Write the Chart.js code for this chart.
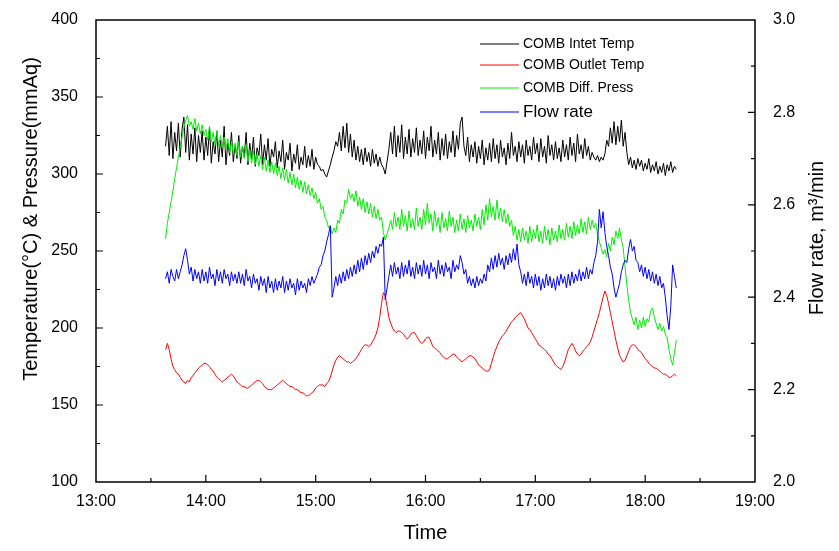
<!DOCTYPE html>
<html>
<head>
<meta charset="utf-8">
<script src="https://cdn.jsdelivr.net/npm/chart.js@4.4.0/dist/chart.umd.min.js"></script>
<style>
  html, body { margin: 0; padding: 0; background: #fff; }
</style>
</head>
<body>
<canvas id="chart" width="839" height="551"></canvas>
<script>
// Time of each reading, minutes after 13:00 (one row = 20 min)
const minutes = [
   38,  39,  40,  41,  42,  43,  44,  45,  46,  47,  48,  49,  50,  51,  52,  53,  54,  55,  56,  57,
   58,  59,  60,  61,  62,  63,  64,  65,  66,  67,  68,  69,  70,  71,  72,  73,  74,  75,  76,  77,
   78,  79,  80,  81,  82,  83,  84,  85,  86,  87,  88,  89,  90,  91,  92,  93,  94,  95,  96,  97,
   98,  99, 100, 101, 102, 103, 104, 105, 106, 107, 108, 109, 110, 111, 112, 113, 114, 115, 116, 117,
  118, 119, 120, 121, 122, 123, 124, 125, 126, 127, 128, 129, 130, 131, 132, 133, 134, 135, 136, 137,
  138, 139, 140, 141, 142, 143, 144, 145, 146, 147, 148, 149, 150, 151, 152, 153, 154, 155, 156, 157,
  158, 159, 160, 161, 162, 163, 164, 165, 166, 167, 168, 169, 170, 171, 172, 173, 174, 175, 176, 177,
  178, 179, 180, 181, 182, 183, 184, 185, 186, 187, 188, 189, 190, 191, 192, 193, 194, 195, 196, 197,
  198, 199, 200, 201, 202, 203, 204, 205, 206, 207, 208, 209, 210, 211, 212, 213, 214, 215, 216, 217,
  218, 219, 220, 221, 222, 223, 224, 225, 226, 227, 228, 229, 230, 231, 232, 233, 234, 235, 236, 237,
  238, 239, 240, 241, 242, 243, 244, 245, 246, 247, 248, 249, 250, 251, 252, 253, 254, 255, 256, 257,
  258, 259, 260, 261, 262, 263, 264, 265, 266, 267, 268, 269, 270, 271, 272, 273, 274, 275, 276, 277,
  278, 279, 280, 281, 282, 283, 284, 285, 286, 287, 288, 289, 290, 291, 292, 293, 294, 295, 296, 297,
  298, 299, 300, 301, 302, 303, 304, 305, 306, 307, 308, 309, 310, 311, 312, 313, 314, 315, 316, 317
];

// COMB Intet Temp (left axis)
const inletTemp = [
  318, 331, 312, 334, 310, 327, 315, 333, 311, 329, 337, 314, 332, 309, 326, 313, 330, 308, 325, 314,
  328, 309, 324, 312, 330, 307, 321, 313, 328, 308, 322, 311, 331, 306, 320, 312, 327, 308, 319, 310,
  325, 307, 318, 311, 327, 306, 320, 310, 324, 305, 317, 312, 326, 306, 319, 309, 323, 305, 316, 311,
  321, 304, 315, 308, 322, 303, 314, 309, 320, 302, 313, 307, 319, 303, 311, 306, 318, 304, 312, 305,
  316, 303, 311, 306, 305, 302, 303, 300, 298, 302, 306, 311, 315, 321, 318, 327, 315, 331, 317, 333,
  314, 326, 311, 322, 309, 318, 308, 316, 306, 317, 308, 314, 305, 316, 307, 313, 305, 311, 306, 304,
  300, 308, 316, 327, 313, 331, 311, 325, 314, 332, 310, 324, 313, 329, 311, 323, 314, 330, 312, 322,
  313, 328, 310, 324, 315, 331, 311, 322, 313, 327, 309, 323, 312, 326, 310, 321, 314, 328, 311, 325,
  316, 333, 337, 318, 312, 324, 308, 319, 311, 321, 307, 318, 310, 322, 306, 317, 309, 320, 308, 323,
  310, 319, 307, 322, 311, 317, 306, 320, 310, 327, 312, 318, 308, 321, 311, 319, 307, 322, 312, 318,
  309, 324, 313, 320, 308, 323, 311, 318, 307, 325, 312, 319, 309, 321, 310, 317, 308, 322, 311, 319,
  309, 324, 312, 320, 308, 326, 313, 319, 310, 323, 312, 318, 309, 314, 311, 309, 312, 308, 311, 309,
  313, 322, 318, 330, 320, 334, 319, 331, 321, 335, 318, 327, 314, 306, 311, 304, 309, 303, 310, 305,
  309, 302, 307, 303, 310, 301, 306, 302, 308, 300, 305, 301, 307, 299, 306, 302, 308, 301, 305, 303
];

// COMB Outlet Temp (left axis)
const outletTemp = [
  186, 190, 186, 180, 175, 173, 171, 170, 168, 166, 165, 164, 166, 165, 168, 169, 171, 172, 174, 175,
  176, 177, 177, 176, 175, 173, 172, 170, 168, 167, 166, 165, 166, 167, 168, 169, 170, 169, 167, 165,
  164, 163, 162, 162, 161, 161, 162, 163, 164, 165, 166, 166, 165, 164, 162, 161, 160, 160, 160, 161,
  162, 163, 164, 165, 166, 165, 164, 163, 162, 162, 161, 160, 160, 159, 158, 158, 157, 156, 156, 157,
  158, 159, 161, 162, 163, 163, 163, 162, 164, 165, 168, 172, 176, 179, 181, 182, 181, 180, 179, 178,
  178, 177, 178, 179, 180, 182, 184, 186, 188, 189, 189, 188, 189, 191, 193, 196, 200, 207, 216, 223,
  221, 214, 207, 203, 200, 198, 197, 198, 198, 197, 196, 194, 193, 194, 196, 197, 197, 195, 193, 191,
  190, 191, 193, 194, 194, 191, 188, 187, 186, 185, 184, 182, 181, 180, 180, 181, 182, 183, 183, 181,
  180, 179, 178, 179, 180, 181, 182, 182, 181, 180, 178, 176, 175, 174, 173, 172, 172, 173, 177, 181,
  185, 188, 191, 193, 195, 196, 198, 200, 202, 204, 205, 207, 208, 209, 210, 208, 206, 203, 200, 199,
  197, 195, 193, 191, 189, 188, 187, 186, 185, 183, 182, 180, 178, 176, 175, 174, 173, 175, 178, 182,
  186, 188, 190, 188, 185, 183, 182, 183, 185, 186, 188, 189, 191, 194, 198, 202, 206, 210, 215, 220,
  224, 221, 216, 210, 204, 198, 192, 187, 182, 180, 178, 179, 182, 185, 188, 189, 189, 188, 186, 185,
  184, 182, 180, 179, 177, 176, 175, 174, 174, 173, 172, 171, 170, 170, 169, 168, 168, 169, 170, 169
];

// COMB Diff. Press (left axis)
const diffPress = [
  258, 268, 275, 282, 289, 297, 304, 311, 317, 324, 330, 335, 338, 331, 334, 329, 336, 328, 333, 326,
  332, 325, 329, 322, 331, 321, 327, 319, 328, 318, 325, 317, 324, 316, 323, 314, 321, 313, 320, 312,
  321, 311, 318, 310, 319, 308, 316, 307, 315, 306, 313, 305, 312, 303, 311, 302, 309, 301, 308, 300,
  307, 299, 305, 297, 304, 296, 303, 294, 301, 293, 300, 291, 298, 290, 296, 288, 295, 287, 293, 286,
  291, 284, 288, 281, 284, 277, 279, 272, 270, 265, 266, 261, 265, 262, 270, 268, 277, 274, 283, 281,
  290, 284, 287, 282, 289, 279, 285, 277, 284, 275, 282, 274, 281, 272, 279, 271, 277, 270, 272, 262,
  257, 261, 265, 270, 264, 275, 266, 272, 264, 277, 266, 273, 263, 276, 265, 271, 264, 278, 266, 272,
  264, 277, 267, 281, 268, 274, 263, 276, 266, 272, 262, 275, 265, 271, 263, 276, 266, 272, 262, 270,
  263, 274, 264, 271, 262, 273, 265, 270, 263, 274, 266, 272, 264, 277, 267, 280, 270, 284, 272, 279,
  270, 283, 271, 278, 269, 277, 268, 274, 266, 270, 260, 266, 257, 264, 256, 265, 257, 263, 255, 266,
  256, 264, 258, 267, 256, 263, 255, 266, 257, 264, 254, 265, 257, 263, 256, 267, 258, 264, 257, 268,
  259, 266, 258, 269, 260, 267, 261, 271, 262, 269, 261, 272, 264, 270, 265, 268, 261, 256, 252, 248,
  251, 246, 255, 250, 259, 254, 263, 258, 265, 257, 252, 240, 228, 218, 210, 206, 202, 207, 199, 205,
  200, 207, 201, 206, 204, 211, 213, 207, 203, 199, 203, 198, 201, 196, 194, 186, 180, 176, 184, 192
];

// Flow rate (right axis, m3/min)
const flowRate = [
  2.440, 2.455, 2.430, 2.460, 2.445, 2.435, 2.460, 2.440, 2.455, 2.470, 2.490, 2.505, 2.480, 2.450, 2.465, 2.435, 2.460, 2.440, 2.455, 2.430,
  2.460, 2.435, 2.455, 2.430, 2.465, 2.440, 2.450, 2.425, 2.460, 2.435, 2.455, 2.430, 2.460, 2.440, 2.450, 2.425, 2.455, 2.435, 2.450, 2.430,
  2.455, 2.430, 2.450, 2.425, 2.460, 2.435, 2.445, 2.420, 2.450, 2.430, 2.440, 2.415, 2.445, 2.425, 2.440, 2.410, 2.445, 2.420, 2.435, 2.410,
  2.440, 2.415, 2.435, 2.420, 2.445, 2.410, 2.435, 2.415, 2.440, 2.420, 2.430, 2.405, 2.440, 2.415, 2.435, 2.420, 2.430, 2.410, 2.440, 2.425,
  2.445, 2.430, 2.440, 2.450, 2.465, 2.470, 2.490, 2.500, 2.520, 2.535, 2.555, 2.400, 2.420, 2.445, 2.425, 2.450, 2.430, 2.455, 2.435, 2.460,
  2.440, 2.465, 2.445, 2.470, 2.450, 2.480, 2.455, 2.485, 2.460, 2.490, 2.470, 2.495, 2.475, 2.500, 2.485, 2.510, 2.495, 2.515, 2.510, 2.530,
  2.395, 2.420, 2.445, 2.470, 2.445, 2.475, 2.450, 2.465, 2.440, 2.475, 2.445, 2.470, 2.450, 2.480, 2.445, 2.465, 2.440, 2.475, 2.450, 2.470,
  2.445, 2.480, 2.450, 2.470, 2.440, 2.475, 2.455, 2.465, 2.440, 2.480, 2.450, 2.470, 2.445, 2.475, 2.455, 2.465, 2.440, 2.480, 2.455, 2.470,
  2.460, 2.490, 2.475, 2.450, 2.460, 2.430, 2.445, 2.425, 2.440, 2.420, 2.445, 2.425, 2.440, 2.430, 2.450, 2.435, 2.470, 2.455, 2.485, 2.460,
  2.490, 2.465, 2.495, 2.470, 2.485, 2.460, 2.490, 2.470, 2.495, 2.475, 2.505, 2.480, 2.515, 2.470, 2.455, 2.430, 2.450, 2.425, 2.455, 2.430,
  2.445, 2.420, 2.450, 2.425, 2.445, 2.415, 2.440, 2.420, 2.450, 2.425, 2.445, 2.420, 2.440, 2.415, 2.445, 2.425, 2.450, 2.430, 2.445, 2.420,
  2.450, 2.425, 2.455, 2.430, 2.450, 2.435, 2.460, 2.435, 2.455, 2.440, 2.465, 2.440, 2.460, 2.450, 2.475, 2.490, 2.520, 2.590, 2.550, 2.585,
  2.540, 2.510, 2.490, 2.465, 2.450, 2.420, 2.400, 2.415, 2.430, 2.455, 2.470, 2.480, 2.475, 2.505, 2.525, 2.500, 2.510, 2.480, 2.475, 2.455,
  2.470, 2.445, 2.465, 2.440, 2.460, 2.435, 2.455, 2.430, 2.450, 2.425, 2.445, 2.420, 2.430, 2.400, 2.360, 2.330, 2.380, 2.470, 2.445, 2.420
];

const seriesLabels = ['COMB Intet Temp', 'COMB Outlet Temp', 'COMB Diff. Press', 'Flow rate'];
const seriesColors = ['#000000', '#ff0000', '#00ee00', '#0000ff'];

function toPoints(values) {
  return minutes.map((m, i) => ({ x: m, y: values[i] }));
}

function hhmm(m) {
  return (13 + Math.floor(m / 60)) + ':' + String(m % 60).padStart(2, '0');
}

// Frame, inward tick marks, legend and the y titles
const framePlugin = {
  id: 'frame',
  afterDraw(chart) {
    const { ctx, chartArea: a, scales } = chart;
    ctx.save();
    ctx.strokeStyle = '#000';
    ctx.lineWidth = 1.5;
    ctx.strokeRect(a.left, a.top, a.right - a.left, a.bottom - a.top);

    ctx.lineWidth = 1.2;
    ctx.beginPath();
    for (let m = 30; m < 360; m += 30) {
      const px = scales.x.getPixelForValue(m);
      const len = m % 60 === 0 ? 7 : 4;
      ctx.moveTo(px, a.bottom);
      ctx.lineTo(px, a.bottom - len);
    }
    for (let v = 125; v < 400; v += 25) {
      const py = scales.y.getPixelForValue(v);
      const len = v % 50 === 0 ? 7 : 4;
      ctx.moveTo(a.left, py);
      ctx.lineTo(a.left + len, py);
    }
    for (let k = 1; k < 10; k++) {
      const py = scales.y1.getPixelForValue(2 + k / 10);
      const len = k % 2 === 0 ? 7 : 4;
      ctx.moveTo(a.right, py);
      ctx.lineTo(a.right - len, py);
    }
    ctx.stroke();

    // legend
    const rows = [44, 65, 88, 112];
    chart.data.datasets.forEach((ds, i) => {
      ctx.strokeStyle = ds.borderColor;
      ctx.lineWidth = 1;
      ctx.beginPath();
      ctx.moveTo(480, rows[i]);
      ctx.lineTo(519, rows[i]);
      ctx.stroke();
      ctx.fillStyle = '#000';
      ctx.textBaseline = 'middle';
      ctx.textAlign = 'left';
      ctx.font = i === 3 ? '17px "Liberation Sans", Arial' : '14px "Liberation Sans", Arial';
      ctx.fillText(ds.label, 523, rows[i]);
    });

    // y titles, both reading bottom to top
    ctx.font = '20px "Liberation Sans", Arial';
    ctx.textAlign = 'center';
    ctx.fillStyle = '#000';
    ctx.save();
    ctx.translate(31, 219);
    ctx.rotate(-Math.PI / 2);
    ctx.fillText('Temperature(\u00B0C) & Pressure(mmAq)', 0, 0);
    ctx.restore();
    ctx.save();
    ctx.translate(817, 238);
    ctx.rotate(-Math.PI / 2);
    ctx.fillText('Flow rate, m\u00B3/min', 0, 0);
    ctx.restore();
    ctx.restore();
  }
};

const tickFont = { family: '"Liberation Sans", Arial', size: 16 };

new Chart(document.getElementById('chart'), {
  type: 'line',
  data: {
    datasets: [
      { label: seriesLabels[0], data: toPoints(inletTemp), borderColor: seriesColors[0], yAxisID: 'y', order: 4 },
      { label: seriesLabels[1], data: toPoints(outletTemp), borderColor: seriesColors[1], yAxisID: 'y', order: 3 },
      { label: seriesLabels[2], data: toPoints(diffPress), borderColor: seriesColors[2], yAxisID: 'y', order: 2 },
      { label: seriesLabels[3], data: toPoints(flowRate), borderColor: seriesColors[3], yAxisID: 'y1', order: 1 }
    ]
  },
  options: {
    responsive: false,
    animation: false,
    devicePixelRatio: 1,
    layout: { padding: { top: 20, left: 0, right: 0, bottom: 0 } },
    elements: {
      line: { borderWidth: 1, tension: 0 },
      point: { radius: 0 }
    },
    plugins: {
      legend: { display: false },
      tooltip: { enabled: false }
    },
    scales: {
      x: {
        type: 'linear',
        min: 0,
        max: 360,
        grid: { display: false },
        border: { display: false },
        ticks: { stepSize: 60, color: '#000', font: tickFont, padding: 2, maxRotation: 0, callback: v => hhmm(v) },
        title: { display: true, text: 'Time', color: '#000', font: { family: '"Liberation Sans", Arial', size: 20 }, padding: { top: 0, bottom: 6 } },
        afterFit: s => { s.height = 69; }
      },
      y: {
        position: 'left',
        min: 100,
        max: 400,
        grid: { display: false },
        border: { display: false },
        ticks: { stepSize: 50, color: '#000', font: tickFont, padding: 10 },
        afterFit: s => { s.width = 96; }
      },
      y1: {
        position: 'right',
        min: 2.0,
        max: 3.0,
        grid: { display: false },
        border: { display: false },
        ticks: { stepSize: 0.2, color: '#000', font: tickFont, padding: 10, callback: v => v.toFixed(1) },
        afterFit: s => { s.width = 84; }
      }
    }
  },
  plugins: [framePlugin]
});
</script>
</body>
</html>
